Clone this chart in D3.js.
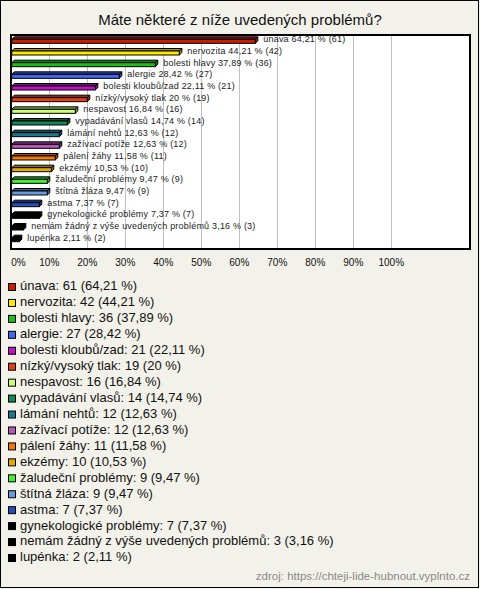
<!DOCTYPE html>
<html>
<head>
<meta charset="utf-8">
<script src="https://cdn.jsdelivr.net/npm/d3@7"></script>
<style>
  html, body { margin: 0; padding: 0; background: #f3f2ea; }
  svg { display: block; }
  text { font-family: "Liberation Sans", Arial, sans-serif; }
</style>
</head>
<body>
<script>
const title = "Máte některé z níže uvedených problémů?";
const categories = ["únava", "nervozita", "bolesti hlavy", "alergie", "bolesti kloubů/zad",
  "nízký/vysoký tlak", "nespavost", "vypadávání vlasů", "lámání nehtů", "zažívací potíže",
  "pálení žáhy", "ekzémy", "žaludeční problémy", "štítná žláza", "astma",
  "gynekologické problémy", "nemám žádný z výše uvedených problémů", "lupénka"];
const counts = [61, 42, 36, 27, 21, 19, 16, 14, 12, 12, 11, 10, 9, 9, 7, 7, 3, 2];
const percents = [64.21, 44.21, 37.89, 28.42, 22.11, 20, 16.84, 14.74, 12.63, 12.63,
  11.58, 10.53, 9.47, 9.47, 7.37, 7.37, 3.16, 2.11];
const colors = ["#c81e00", "#ffe800", "#18c018", "#4466f0", "#c010c8", "#e04010",
  "#ccff70", "#108858", "#1e7890", "#b858b8", "#ee7800", "#e0aa00", "#44ee33",
  "#6699e0", "#2250b8", "#000000", "#000000", "#000000"];
const tickValues = [0, 10, 20, 30, 40, 50, 60, 70, 80, 90, 100];
const source = "zdroj: https://chteji-lide-hubnout.vyplnto.cz";

const W = 480, H = 589;
const fmt = p => String(p).replace(".", ",");

const svg = d3.select("body").append("svg").attr("width", W).attr("height", H);

svg.append("rect").attr("x", 0.5).attr("y", 0.5).attr("width", W - 2).attr("height", H - 2)
  .attr("fill", "#f3f2ea").attr("stroke", "#000").attr("stroke-width", 1);

svg.append("text").attr("x", W / 2).attr("y", 21).attr("text-anchor", "middle")
  .attr("dominant-baseline", "middle").attr("font-size", 15).attr("fill", "#111").text(title);

// plot area
const plot = { x0: 11, y0: 35, x1: 470, y1: 249 };
svg.append("rect").attr("x", plot.x0).attr("y", plot.y0)
  .attr("width", plot.x1 - plot.x0).attr("height", plot.y1 - plot.y0)
  .attr("fill", "#fff");

const x = d3.scaleLinear().domain([0, 100]).range([11.3, 391.3]);
const y = d3.scaleBand().domain(categories).range([34, 244]);

// grid lines
svg.append("g").selectAll("line").data(tickValues.slice(1)).join("line")
  .attr("x1", d => Math.round(x(d)) + 0.5).attr("x2", d => Math.round(x(d)) + 0.5)
  .attr("y1", plot.y0).attr("y2", plot.y1)
  .attr("stroke", "#c0c0c0").attr("stroke-width", 1);

// bars (3D style)
const d3depth = 2.5;
const bars = svg.append("g").selectAll("g").data(categories).join("g");
bars.each(function (c, i) {
  const g = d3.select(this);
  const cy = y(c) + y.bandwidth() / 2;
  const xa = x(0) + 0.5, xb = x(percents[i]);
  const top = cy - 0.5, bot = cy + 3.5;
  const col = colors[i];
  const dark = colors[i] === "#000000" ? "#000" : d3.color(col).darker(1.2).formatHex();
  g.append("path")
    .attr("d", `M${xa},${top} L${xa + d3depth},${top - d3depth} L${xb + d3depth},${top - d3depth} L${xb},${top} Z`)
    .attr("fill", dark).attr("stroke", "#000").attr("stroke-width", 1).attr("stroke-linejoin", "round");
  g.append("path")
    .attr("d", `M${xb},${top} L${xb + d3depth},${top - d3depth} L${xb + d3depth},${bot - d3depth} L${xb},${bot} Z`)
    .attr("fill", dark).attr("stroke", "#000").attr("stroke-width", 1).attr("stroke-linejoin", "round");
  g.append("rect").attr("x", xa).attr("y", top).attr("width", xb - xa).attr("height", bot - top)
    .attr("fill", col).attr("stroke", "#000").attr("stroke-width", 1);
  g.append("text").attr("x", xb + 8).attr("y", cy).attr("dominant-baseline", "middle")
    .attr("font-size", 9).attr("letter-spacing", 0.2).attr("fill", "#222")
    .text(`${c} ${fmt(percents[i])} % (${counts[i]})`);
});

// plot border
svg.append("rect").attr("x", plot.x0).attr("y", plot.y0)
  .attr("width", plot.x1 - plot.x0).attr("height", plot.y1 - plot.y0)
  .attr("fill", "none").attr("stroke", "#000").attr("stroke-width", 2);

// x axis labels
svg.append("g").selectAll("text").data(tickValues).join("text")
  .attr("x", d => x(d))
  .attr("y", 263).attr("dominant-baseline", "middle")
  .attr("text-anchor", d => d === 0 ? "start" : "middle")
  .attr("font-size", 10).attr("fill", "#111")
  .text(d => d + "%");

// legend
const ly = d3.scaleLinear().domain([0, categories.length - 1]).range([287, 558]);
const leg = svg.append("g").selectAll("g").data(categories).join("g")
  .attr("transform", (c, i) => `translate(0,${ly(i)})`);
leg.append("rect").attr("x", 8.5).attr("y", -3.5).attr("width", 7).attr("height", 7)
  .attr("fill", (c, i) => colors[i]).attr("stroke", "#000").attr("stroke-width", 1);
leg.append("text").attr("x", 20).attr("y", 0).attr("dominant-baseline", "middle")
  .attr("font-size", 13).attr("fill", "#111")
  .text((c, i) => `${c}: ${counts[i]} (${fmt(percents[i])} %)`);

svg.append("text").attr("x", 470).attr("y", 577).attr("text-anchor", "end")
  .attr("dominant-baseline", "middle").attr("font-size", 11.5).attr("fill", "#888")
  .text(source);
</script>
</body>
</html>
